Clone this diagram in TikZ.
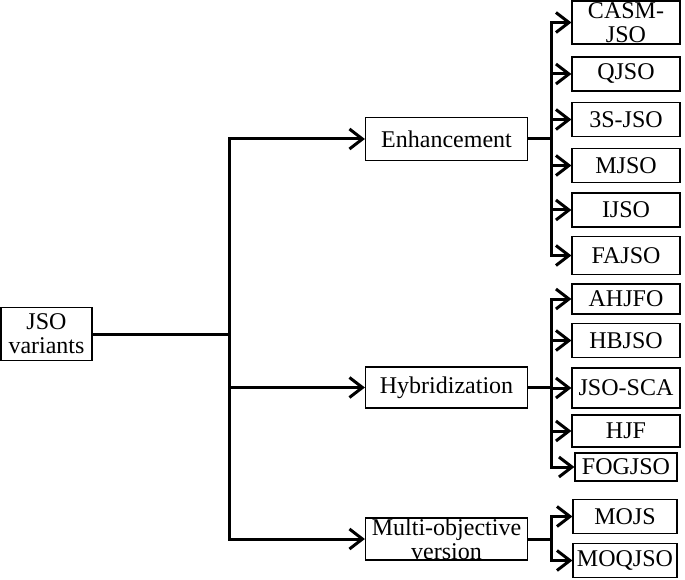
\documentclass[tikz,border=0pt]{standalone}
\usepackage{fontspec}
\setmainfont{Liberation Serif}
\usetikzlibrary{arrows.meta}
\tikzset{
	box/.style={draw, line width=1.2pt, align=center, inner sep=1pt, font=\fontsize{24}{24}\selectfont},
	twoline/.style={inner ysep=0pt},
	leafbox/.style={box, minimum width=108pt, minimum height=34pt},
	midbox/.style={box, minimum width=162pt, minimum height=43pt},
	link/.style={line width=3pt},
	branch/.style={link, -{Straight Barb[length=13pt,width=20pt]}}
}

\begin{document}
\begin{tikzpicture}[x=1pt, y=-1pt]
		%%%%% START %%%%%
		\useasboundingbox (0, 0) rectangle (685, 580);
		
		\node[box, minimum width=91pt, minimum height=53pt] (root) at (46.5, 334) {JSO\\variants};
		
		\node[midbox] (enh) at (446.5, 139) {Enhancement};
		\node[midbox, minimum height=41pt] (hyb) at (446.5, 387.5) {Hybridization};
		\node[midbox, twoline, minimum height=42pt] (multi) at (446.5, 539) {Multi-objective\\version};
		
		% enhancement
		\node[leafbox, twoline, minimum height=43pt] (casm) at (626, 22.5) {CASM-\\JSO};
		\node[leafbox] (qjso) at (626, 74) {QJSO};
		\node[leafbox] (3sjso) at (626, 119.5) {3S-JSO};
		\node[leafbox] (mjso) at (626, 165.5) {MJSO};
		\node[leafbox] (ijso) at (626, 210) {IJSO};
		\node[leafbox, minimum height=38pt] (fajso) at (626, 255.5) {FAJSO};
		
		% hybridization
		\node[leafbox, minimum height=30pt] (ahjfo) at (626, 299) {AHJFO};
		\node[leafbox] (hbjso) at (626, 340.5) {HBJSO};
		\node[leafbox, minimum height=40pt] (jsosca) at (626, 388) {JSO-SCA};
		\node[leafbox, minimum height=32pt] (hjf) at (626, 431) {HJF};
		\node[leafbox, minimum width=102pt, minimum height=28pt] (fogjso) at (626, 467) {FOGJSO};
		
		% multi-objective
		\node[leafbox, minimum width=104pt] (mojs) at (625, 516.5) {MOJS};
		\node[leafbox, minimum width=104pt] (moqjso) at (625, 560.5) {MOQJSO};
		
		\coordinate (rootfork) at (229, 334);
		\coordinate (enhfork) at (551, 139);
		\coordinate (hybfork) at (551, 387.5);
		\coordinate (multifork) at (551, 539);
		
		\draw[link] (root.east) -- (rootfork);
		\foreach \n in {enh, hyb, multi}
			\draw[branch] (rootfork) |- (\n.west);
		
		\draw[link] (enh.east) -- (enhfork);
		\foreach \n in {casm, qjso, 3sjso, mjso, ijso, fajso}
			\draw[branch] (enhfork) |- (\n.west);
		
		\draw[link] (hyb.east) -- (hybfork);
		\foreach \n in {ahjfo, hbjso, jsosca, hjf, fogjso}
			\draw[branch] (hybfork) |- (\n.west);
		
		\draw[link] (multi.east) -- (multifork);
		\foreach \n in {mojs, moqjso}
			\draw[branch] (multifork) |- (\n.west);
		
		%%%%% END %%%%%
	\end{tikzpicture}
\end{document}
